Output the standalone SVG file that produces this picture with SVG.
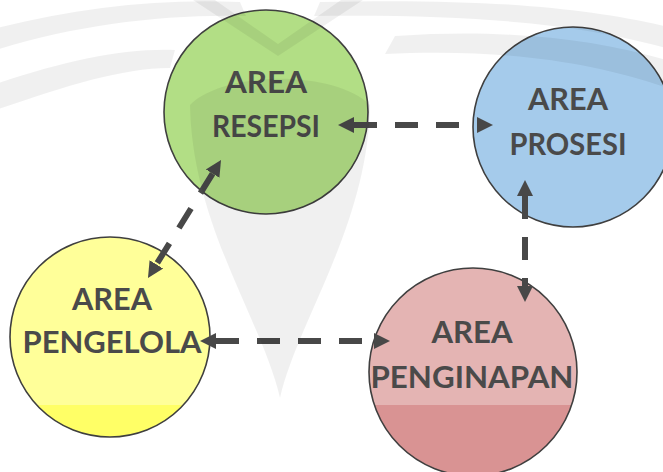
<svg xmlns="http://www.w3.org/2000/svg" width="663" height="472" viewBox="0 0 663 472">
  <style>
    .node circle { stroke: #3f3f3f; stroke-width: 1.6; }
    .label { font-family: Lato, "Open Sans", "Liberation Sans", sans-serif; font-weight: 700; font-size: 30px; fill: #4a4a4a; text-anchor: middle; }
    .link { fill: none; stroke: #484848; stroke-width: 6; stroke-dasharray: 23 18; marker-start: url(#arrow); marker-end: url(#arrow); }
    .mark { fill: #000; fill-opacity: 0.06; }
  </style>
  <defs>
    <marker id="arrow" markerUnits="userSpaceOnUse" markerWidth="18" markerHeight="18" viewBox="0 -9 18 18" refX="0" refY="0" orient="auto-start-reverse">
      <path d="M0,-8 L16,0 L0,8 Z" fill="#484848"/>
    </marker>
    <linearGradient id="fillYellow" gradientUnits="userSpaceOnUse" x1="0" y1="0" x2="0" y2="472">
      <stop offset="0" stop-color="#ffff99"/>
      <stop offset="0.858" stop-color="#ffff99"/>
      <stop offset="0.858" stop-color="#ffff66"/>
      <stop offset="1" stop-color="#ffff66"/>
    </linearGradient>
    <linearGradient id="fillPink" gradientUnits="userSpaceOnUse" x1="0" y1="0" x2="0" y2="472">
      <stop offset="0" stop-color="#e4b4b3"/>
      <stop offset="0.858" stop-color="#e4b4b3"/>
      <stop offset="0.858" stop-color="#d99393"/>
      <stop offset="1" stop-color="#d99393"/>
    </linearGradient>
  </defs>

  <rect width="663" height="472" fill="#ffffff"/>

  <g id="node-resepsi" class="node">
    <circle cx="266" cy="112" r="102" fill="#b2de85"/>
    <text class="label" x="266" y="93" textLength="82" lengthAdjust="spacingAndGlyphs">AREA</text>
    <text class="label" x="266" y="137" textLength="108" lengthAdjust="spacingAndGlyphs">RESEPSI</text>
  </g>

  <g id="node-prosesi" class="node">
    <circle cx="573" cy="127" r="100" fill="#a5cbeb"/>
    <text class="label" x="568" y="110" textLength="80" lengthAdjust="spacingAndGlyphs">AREA</text>
    <text class="label" x="568" y="155" textLength="117" lengthAdjust="spacingAndGlyphs">PROSESI</text>
  </g>

  <g id="node-pengelola" class="node">
    <circle cx="110" cy="337" r="100" fill="url(#fillYellow)"/>
    <text class="label" x="112" y="310" textLength="80" lengthAdjust="spacingAndGlyphs">AREA</text>
    <text class="label" x="112" y="353" textLength="179" lengthAdjust="spacingAndGlyphs">PENGELOLA</text>
  </g>

  <g id="node-penginapan" class="node">
    <circle cx="473" cy="372" r="104" fill="url(#fillPink)"/>
    <text class="label" x="472" y="343" textLength="81" lengthAdjust="spacingAndGlyphs">AREA</text>
    <text class="label" x="472" y="388" textLength="203" lengthAdjust="spacingAndGlyphs">PENGINAPAN</text>
  </g>

  <g id="connectors">
    <line class="link" x1="354" y1="125" x2="477" y2="125"/>
    <line class="link" x1="212.6" y1="173.6" x2="156.4" y2="264.4"/>
    <line class="link" x1="216" y1="341" x2="374" y2="341"/>
    <line class="link" x1="525" y1="196" x2="525" y2="286"/>
  </g>

  <!-- faint background emblem, laid over the page -->
  <g id="emblem" class="mark">
    <path d="M190,105 C192,225 262,320 280,398 C298,320 368,225 370,105 C335,70 225,70 190,105 Z"/>
    <path d="M-10,30 C70,8 160,-2 240,2 L246,16 C160,14 70,26 -10,52 Z"/>
    <path d="M-10,86 C60,62 120,48 175,50 L170,68 C120,68 60,88 -10,112 Z"/>
    <path d="M215,0 L278,44 L341,0 L363,0 L278,56 L193,0 Z"/>
    <path d="M673,28 C590,8 490,-2 320,2 L314,16 C490,14 590,26 673,50 Z"/>
    <path d="M673,62 C600,40 510,28 395,36 L385,54 C510,48 600,64 673,90 Z"/>
  </g>
</svg>
